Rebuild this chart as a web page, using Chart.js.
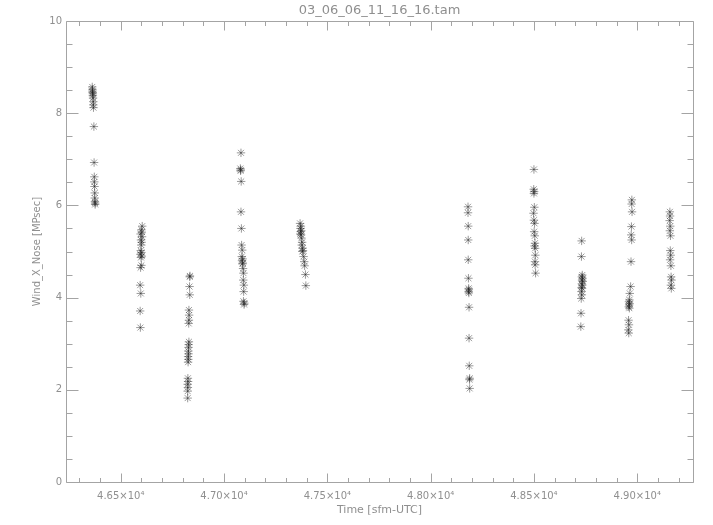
<!DOCTYPE html>
<html>
<head>
<meta charset="utf-8">
<script src="https://cdn.jsdelivr.net/npm/chart.js@4/dist/chart.umd.min.js"></script>
<style>
  html, body { margin: 0; padding: 0; background: #ffffff; }
  #wrap { width: 713px; height: 525px; position: relative; }
</style>
</head>
<body>
<div id="wrap"><canvas id="c" width="713" height="525"></canvas></div>
<script>
// ---- data ----
const chartTitle = '03_06_06_11_16_16.tam';
const xAxisTitle = 'Time [sfm-UTC]';
const yAxisTitle = 'Wind_X_Nose [MPsec]';

const times = [
  46362, 46363, 46363, 46364, 46365, 46365, 46366, 46367, 46367, 46368, 46370, 46371, 46372, 46372, 46373, 46374, 46374, 46375, 46376, 46376,
  46604, 46600, 46602, 46596, 46603, 46598, 46601, 46599, 46597, 46600, 46595, 46602, 46598, 46600, 46596, 46594, 46597, 46594, 46595,
  46835, 46834, 46833, 46834, 46830, 46831, 46830, 46829, 46830, 46829, 46828, 46827, 46828, 46826, 46827, 46826, 46825, 46826, 46824, 46825, 46824, 46824,
  47082, 47079, 47081, 47080, 47083, 47082, 47084, 47085, 47088, 47086, 47090, 47087, 47091, 47089, 47092, 47094, 47093, 47096, 47095, 47094, 47098, 47097,
  47368, 47372, 47370, 47374, 47371, 47369, 47373, 47375, 47378, 47376, 47380, 47382, 47379, 47385, 47388, 47390, 47394, 47396,
  48181, 48181, 48182, 48182, 48182, 48183, 48184, 48185, 48184, 48185, 48186, 48186, 48187, 48189, 48188, 48189,
  48500, 48499, 48501, 48500, 48502, 48498, 48500, 48503, 48501, 48504, 48505, 48503, 48506, 48507, 48505, 48506, 48508,
  48731, 48730, 48734, 48732, 48735, 48733, 48736, 48732, 48734, 48731, 48733, 48730, 48732, 48729, 48728, 48727,
  48974, 48973, 48975, 48972, 48971, 48973, 48970, 48968, 48964, 48962, 48960, 48963, 48961, 48959, 48962, 48958, 48960, 48957, 48959,
  49158, 49159, 49157, 49160, 49158, 49161, 49160, 49162, 49159, 49163, 49164, 49166, 49163, 49165
];
const windX = [
  8.57, 8.52, 8.48, 8.45, 8.42, 8.38, 8.33, 8.25, 8.18, 8.12, 7.71, 6.93, 6.62, 6.51, 6.41, 6.27, 6.16, 6.08, 6.05, 6.02,
  5.55, 5.47, 5.42, 5.38, 5.32, 5.25, 5.20, 5.14, 5.02, 4.98, 4.94, 4.90, 4.87, 4.70, 4.65, 4.27, 4.09, 3.71, 3.35,
  4.47, 4.45, 4.24, 4.06, 3.73, 3.62, 3.51, 3.44, 3.04, 2.98, 2.92, 2.84, 2.78, 2.72, 2.66, 2.60, 2.25, 2.18, 2.12, 2.05, 1.97, 1.82,
  7.14, 6.80, 6.77, 6.75, 6.52, 5.86, 5.50, 5.14, 5.03, 4.89, 4.84, 4.80, 4.75, 4.73, 4.63, 4.53, 4.38, 4.27, 4.13, 3.92, 3.88, 3.85,
  5.61, 5.55, 5.50, 5.45, 5.43, 5.38, 5.36, 5.29, 5.20, 5.14, 5.07, 5.02, 5.00, 4.89, 4.78, 4.69, 4.50, 4.26,
  5.97, 5.84, 5.55, 5.25, 4.82, 4.42, 4.20, 4.17, 4.13, 4.10, 3.79, 3.12, 2.52, 2.25, 2.22, 2.03,
  6.78, 6.35, 6.30, 6.26, 5.96, 5.83, 5.68, 5.61, 5.43, 5.34, 5.18, 5.12, 5.07, 4.92, 4.78, 4.71, 4.53,
  5.23, 4.89, 4.49, 4.45, 4.42, 4.38, 4.35, 4.30, 4.27, 4.22, 4.20, 4.13, 4.06, 3.98, 3.66, 3.37,
  6.12, 6.03, 5.86, 5.54, 5.36, 5.25, 4.78, 4.24, 4.09, 3.95, 3.91, 3.87, 3.84, 3.80, 3.77, 3.51, 3.41, 3.30, 3.23,
  5.86, 5.77, 5.67, 5.55, 5.45, 5.34, 5.02, 4.92, 4.82, 4.69, 4.45, 4.38, 4.27, 4.20
];

const xRange = [46235, 49270];
const yRange = [0, 10];
const xTickValues = [46500, 47000, 47500, 48000, 48500, 49000];
const xTickLabels = ['4.65\u00d710\u2074', '4.70\u00d710\u2074', '4.75\u00d710\u2074', '4.80\u00d710\u2074', '4.85\u00d710\u2074', '4.90\u00d710\u2074'];
const xMinorValues = [46300, 46400, 46600, 46700, 46800, 46900, 47100, 47200, 47300, 47400, 47600, 47700, 47800, 47900,
                      48100, 48200, 48300, 48400, 48600, 48700, 48800, 48900, 49100, 49200];
const yTickValues = [0, 2, 4, 6, 8, 10];
const yTickLabels = ['0', '2', '4', '6', '8', '10'];
const yMinorValues = [0.5, 1, 1.5, 2.5, 3, 3.5, 4.5, 5, 5.5, 6.5, 7, 7.5, 8.5, 9, 9.5];

// ---- styling ----
const AXIS_COLOR = '#a4a4a4';
const TEXT_COLOR = '#8f8f8f';
const FONT = '"DejaVu Sans", sans-serif';

const points = times.map((t, i) => ({ x: t, y: windX[i] }));

const boxPlugin = {
  id: 'idlBox',
  afterDraw(chart) {
    const { ctx, chartArea: a, scales } = chart;
    const xs = scales.x, ys = scales.y;
    ctx.save();
    ctx.strokeStyle = AXIS_COLOR;
    ctx.lineWidth = 1;
    ctx.beginPath();
    const L = Math.round(a.left) + 0.5, R = Math.round(a.right) + 0.5;
    const T = Math.round(a.top) + 0.5, B = Math.round(a.bottom) + 0.5;
    ctx.rect(L, T, R - L, B - T);
    const xTick = (v, len) => {
      const px = Math.round(xs.getPixelForValue(v)) + 0.5;
      ctx.moveTo(px, B); ctx.lineTo(px, B - len);
      ctx.moveTo(px, T); ctx.lineTo(px, T + len);
    };
    const yTick = (v, len) => {
      const py = Math.round(ys.getPixelForValue(v)) + 0.5;
      ctx.moveTo(L, py); ctx.lineTo(L + len, py);
      ctx.moveTo(R, py); ctx.lineTo(R - len, py);
    };
    xTickValues.forEach(v => xTick(v, 9));
    xMinorValues.forEach(v => xTick(v, 4.5));
    yTickValues.forEach(v => yTick(v, 12));
    yMinorValues.forEach(v => yTick(v, 6));
    ctx.stroke();
    // chart title centred over the plot area
    ctx.fillStyle = TEXT_COLOR;
    ctx.font = '13px ' + FONT;
    ctx.textAlign = 'center';
    ctx.textBaseline = 'middle';
    ctx.fillText(chartTitle, (a.left + a.right) / 2, 11);
    ctx.restore();
  }
};

new Chart(document.getElementById('c'), {
  type: 'scatter',
  data: {
    datasets: [{
      data: points,
      pointStyle: 'star',
      pointRadius: 4.2,
      pointHoverRadius: 4.2,
      borderWidth: 1,
      borderColor: 'rgba(30,30,30,0.45)',
      backgroundColor: 'rgba(30,30,30,0.45)'
    }]
  },
  options: {
    responsive: false,
    animation: false,
    events: [],
    layout: { padding: { left: 0, right: 20, top: 21, bottom: 0 } },
    plugins: { legend: { display: false }, tooltip: { enabled: false }, title: { display: false } },
    scales: {
      x: {
        type: 'linear',
        min: xRange[0], max: xRange[1],
        afterBuildTicks: s => { s.ticks = xTickValues.map(v => ({ value: v })); },
        afterFit: s => { s.height = 43; },
        grid: { display: false, drawTicks: false },
        border: { display: false },
        ticks: {
          color: TEXT_COLOR, font: { family: FONT, size: 10 }, padding: 8, maxRotation: 0, autoSkip: false,
          callback: v => { const i = xTickValues.indexOf(v); return i >= 0 ? xTickLabels[i] : ''; }
        },
        title: { display: true, text: xAxisTitle, color: TEXT_COLOR, font: { family: FONT, size: 11 }, padding: { top: 0, bottom: 8 } }
      },
      y: {
        type: 'linear',
        min: yRange[0], max: yRange[1],
        afterBuildTicks: s => { s.ticks = yTickValues.map(v => ({ value: v })); },
        afterFit: s => { s.width = 66; },
        grid: { display: false, drawTicks: false },
        border: { display: false },
        ticks: {
          color: TEXT_COLOR, font: { family: FONT, size: 10 }, padding: 4, autoSkip: false,
          callback: v => { const i = yTickValues.indexOf(v); return i >= 0 ? yTickLabels[i] : ''; }
        },
        title: { display: true, text: yAxisTitle, color: TEXT_COLOR, font: { family: FONT, size: 10 }, padding: { top: 31, bottom: 0 } }
      }
    }
  },
  plugins: [boxPlugin]
});
</script>
</body>
</html>
